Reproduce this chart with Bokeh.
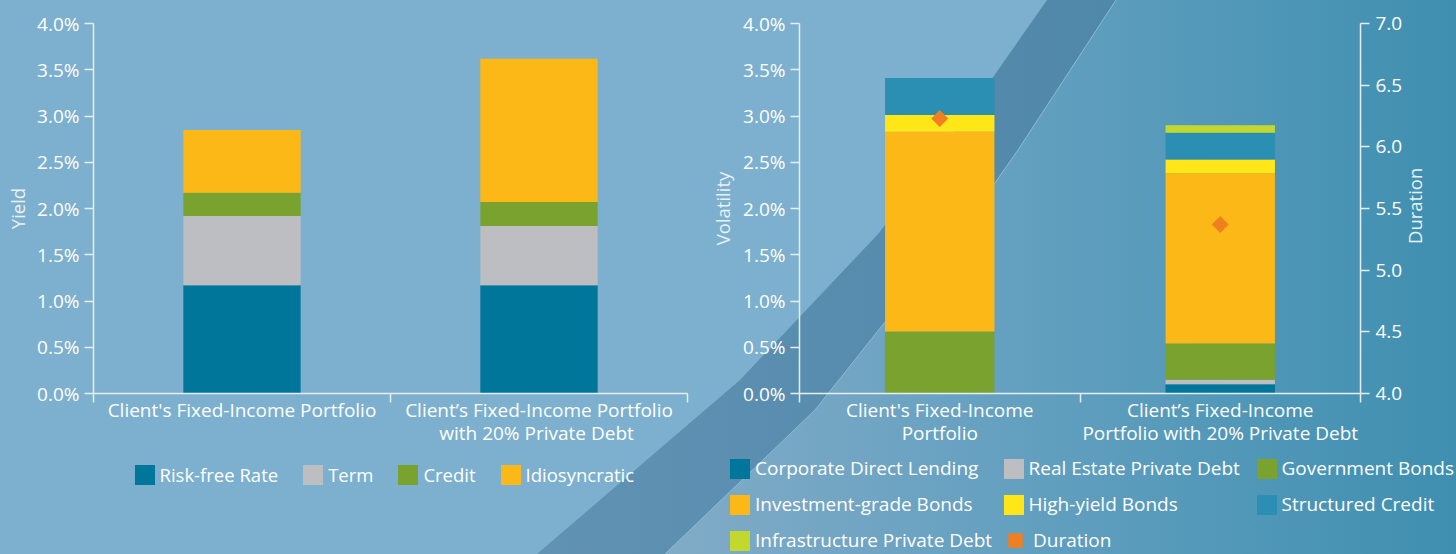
import math
from urllib.parse import quote

from bokeh.plotting import figure
from bokeh.layouts import row
from bokeh.models import (Range1d, LinearAxis, FixedTicker, SingleIntervalTicker,
                          PrintfTickFormatter, Legend, LegendItem, ColumnDataSource,
                          GlobalInlineStyleSheet)
from bokeh.embed import file_html
from bokeh.resources import INLINE

# ---------------- data (percent) ----------------
left_categories = ["Client's Fixed-Income Portfolio",
                   "Client\u2019s Fixed-Income Portfolio\nwith  20% Private Debt"]
left_series = ["Risk-free Rate", "Term", "Credit", "Idiosyncratic"]
risk_free_rate = [1.17, 1.17]
term = [0.75, 0.64]
credit = [0.25, 0.26]
idiosyncratic = [0.68, 1.55]

right_categories = ["Client's Fixed-Income\nPortfolio",
                    "Client\u2019s Fixed-Income\nPortfolio with 20% Private Debt"]
right_series = ["Corporate Direct Lending", "Real Estate Private Debt", "Government Bonds",
                "Investment-grade Bonds", "High-yield Bonds", "Structured Credit",
                "Infrastructure Private Debt"]
corporate_direct_lending = [0.00, 0.10]
real_estate_private_debt = [0.00, 0.05]
government_bonds = [0.67, 0.39]
investment_grade_bonds = [2.16, 1.84]
high_yield_bonds = [0.18, 0.15]
structured_credit = [0.40, 0.29]
infrastructure_private_debt = [0.00, 0.08]
duration = [6.23, 5.37]

y_min, y_max = 0.0, 4.0          # yield / volatility axes (percent)
dur_min, dur_max = 4.0, 7.0      # duration axis
tick_interval = 0.5

# ---------------- styles ----------------
FONT = "Open Sans"
FS = "19px"
TXT = "#ffffff"
LBL = "#e9f1f6"
AXIS = "#e6eef4"
C_DARK = "#00769a"
C_GREY = "#bdbec2"
C_GREEN = "#7aa22f"
C_ORANGE = "#fbb817"
C_YELLOW = "#ffe616"
C_TEAL = "#2a8fb3"
C_LIME = "#c2d82e"
C_DIAMOND = "#f07f22"

left_colors = [C_DARK, C_GREY, C_GREEN, C_ORANGE]
right_colors = [C_DARK, C_GREY, C_GREEN, C_ORANGE, C_YELLOW, C_TEAL, C_LIME]

# geometry (pixels): frames cover the whole figures; axes are pinned inside them
H = 554
MAX_PX = 23                        # screen row of the axis maximum
ZERO_PX = 393                      # screen row of value 0
PLOT_H = ZERO_PX - MAX_PX
BELOW = H - ZERO_PX

# background decoration (page)
svg = (
    "<svg xmlns='http://www.w3.org/2000/svg' width='1456' height='554'>"
    "<defs>"
    "<linearGradient id='g1' gradientUnits='userSpaceOnUse' x1='650' y1='0' x2='1456' y2='0'>"
    "<stop offset='0' stop-color='#82acc7'/><stop offset='0.45' stop-color='#64a0c0'/>"
    "<stop offset='1' stop-color='#3f8fb0'/></linearGradient>"
    "<linearGradient id='g2' gradientUnits='userSpaceOnUse' x1='540' y1='0' x2='1110' y2='0'>"
    "<stop offset='0' stop-color='#6192b3'/><stop offset='1' stop-color='#5088aa'/></linearGradient>"
    "</defs>"
    "<rect width='1456' height='554' fill='#7cb0ce'/>"
    "<polygon points='537,554 740,380 879,233 989,83 1047,0 1456,0 1456,554' fill='url(#g2)'/>"
    "<polygon points='665,554 815,410 990,190 1018,150 1116,0 1456,0 1456,554' fill='url(#g1)'/>"
    "<polyline points='665,554 815,410 990,190 1018,150 1116,0' fill='none' stroke='#8dbad3' stroke-width='1'/>"
    "</svg>"
)
page_css = GlobalInlineStyleSheet(css=(
    "html, body { margin: 0; padding: 0; overflow: hidden; background-color: #7cb0ce; "
    "background-image: url(\"data:image/svg+xml," + quote(svg) + "\"); "
    "background-repeat: no-repeat; background-size: 1456px 554px; }"
))


def style_axis_label(ax, label, standoff):
    ax.axis_label = label
    ax.axis_label_text_font = FONT
    ax.axis_label_text_font_size = "18.5px"
    ax.axis_label_text_font_style = "normal"
    ax.axis_label_text_color = LBL
    ax.axis_label_standoff = standoff


def style_yaxis(ax, bounds):
    ax.bounds = bounds
    ax.axis_line_color = AXIS
    ax.axis_line_width = 1.5
    ax.major_tick_line_color = AXIS
    ax.major_tick_line_width = 1.5
    ax.major_tick_out = 9
    ax.major_tick_in = 0
    ax.minor_tick_line_color = None
    ax.major_label_standoff = 5
    ax.major_label_text_font = FONT
    ax.major_label_text_font_size = FS
    ax.major_label_text_color = TXT


def style_xaxis(ax, positions, labels, n):
    ax.fixed_location = y_min
    ax.bounds = (0, n)
    ax.ticker = FixedTicker(ticks=positions, minor_ticks=list(range(n + 1)))
    ax.major_label_overrides = {pos: lab for pos, lab in zip(positions, labels)}
    ax.axis_line_color = AXIS
    ax.axis_line_width = 1.5
    ax.major_tick_line_color = None
    ax.major_tick_out = 0
    ax.major_tick_in = 0
    ax.minor_tick_line_color = AXIS
    ax.minor_tick_line_width = 1.5
    ax.minor_tick_out = 9
    ax.minor_tick_in = 0
    ax.major_label_standoff = -6
    ax.major_label_text_font = FONT
    ax.major_label_text_font_size = FS
    ax.major_label_text_color = TXT
    ax.major_label_text_line_height = 0.89


def make_legend(items, location, orientation, font_size, spacing, standoff, glyph=25):
    leg = Legend(items=items, location=location, orientation=orientation,
                 glyph_width=glyph, glyph_height=glyph, label_standoff=standoff, spacing=spacing)
    leg.label_text_font = FONT
    leg.label_text_font_size = font_size
    leg.label_text_color = TXT
    leg.background_fill_alpha = 0
    leg.border_line_alpha = 0
    leg.padding = 0
    leg.margin = 0
    return leg


def make_figure(width, left_px, right_px, n):
    px_x = (width - left_px - right_px) / n
    px_y = PLOT_H / (y_max - y_min)
    p = figure(width=width, height=H,
               x_range=Range1d(-left_px / px_x, n + right_px / px_x),
               y_range=Range1d(y_min - BELOW / px_y, y_max + MAX_PX / px_y),
               output_backend="svg", toolbar_location=None,
               min_border_left=0, min_border_right=0, min_border_top=0, min_border_bottom=0,
               background_fill_alpha=0, border_fill_alpha=0, outline_line_color=None)
    p.xgrid.visible = False
    p.ygrid.visible = False
    p.yaxis[0].fixed_location = 0
    p.yaxis[0].ticker = SingleIntervalTicker(interval=tick_interval, num_minor_ticks=0)
    p.yaxis[0].formatter = PrintfTickFormatter(format="%.1f%%")
    return p


# ---------------- left chart (axis at x=93, category span 93..687) ----------------
xl = [i + 0.5 for i in range(len(left_categories))]
src_l = ColumnDataSource(dict(x=xl, rf=risk_free_rate, term=term, credit=credit, idio=idiosyncratic))
p1 = make_figure(700, 93, 13, len(left_categories))
rl = p1.vbar_stack(["rf", "term", "credit", "idio"], x="x", width=0.395, color=left_colors,
                   line_color=None, source=src_l)
style_yaxis(p1.yaxis[0], (y_min, y_max))
style_axis_label(p1.yaxis[0], "Yield", 4)
style_xaxis(p1.xaxis[0], xl, left_categories, len(left_categories))

leg1 = make_legend([LegendItem(label=s, renderers=[r]) for s, r in zip(left_series, rl)],
                   (131.5, 67), "horizontal", "18.5px", 22, 3)
p1.add_layout(leg1, "center")

# ---------------- right chart (axis at x=799, category span 799..1360) ----------------
xr = [i + 0.5 for i in range(len(right_categories))]
src_r = ColumnDataSource(dict(x=xr, cdl=corporate_direct_lending, re=real_estate_private_debt,
                              gov=government_bonds, ig=investment_grade_bonds, hy=high_yield_bonds,
                              sc=structured_credit, infra=infrastructure_private_debt, dur=duration))
p2 = make_figure(756, 99, 96, len(right_categories))
px_d = PLOT_H / (dur_max - dur_min)
p2.extra_y_ranges = {"dur": Range1d(dur_min - BELOW / px_d, dur_max + MAX_PX / px_d)}
rr = p2.vbar_stack(["cdl", "re", "gov", "ig", "hy", "sc", "infra"], x="x", width=0.39,
                   color=right_colors, line_color=None, source=src_r)
rd = p2.scatter(x="x", y="dur", source=src_r, y_range_name="dur", marker="square", size=12,
                angle=math.pi / 4, fill_color=C_DIAMOND, line_color=None)
style_yaxis(p2.yaxis[0], (y_min, y_max))
style_axis_label(p2.yaxis[0], "Volatility", 5)
style_xaxis(p2.xaxis[0], xr, right_categories, len(right_categories))

# duration axis (ticks and tick labels)
ax_dur = LinearAxis(y_range_name="dur", fixed_location=len(right_categories),
                    ticker=SingleIntervalTicker(interval=tick_interval, num_minor_ticks=0),
                    formatter=PrintfTickFormatter(format="%.1f"))
style_yaxis(ax_dur, (dur_min, dur_max))
ax_dur.major_label_standoff = 6
p2.add_layout(ax_dur, "right")

# duration axis title, read bottom-to-top like the reference; its text starts at the
# middle of the axis bounds, so the bounds are chosen to centre it near 5.5
label_bottom_px = 243.5
label_mid = dur_max - (label_bottom_px - MAX_PX) / px_d
ax_dur_title = LinearAxis(y_range_name="dur", fixed_location=len(right_categories),
                          ticker=FixedTicker(ticks=[]),
                          bounds=(dur_min, 2 * label_mid - dur_min))
ax_dur_title.axis_line_color = None
ax_dur_title.major_tick_line_color = None
ax_dur_title.minor_tick_line_color = None
ax_dur_title.major_tick_out = 0
ax_dur_title.major_tick_in = 0
ax_dur_title.major_label_standoff = 0
style_axis_label(ax_dur_title, "Duration", 54)
ax_dur_title.axis_label_orientation = math.pi / 2
p2.add_layout(ax_dur_title, "right")

# legend: three columns of swatches plus the duration marker
items_r = [LegendItem(label=s, renderers=[r]) for s, r in zip(right_series, rr)]
columns = [[0, 3, 6], [1, 4], [2, 5]]
col_x = [27, 300.5, 553.5]
col_vy = [1, 37, 37]
for idx, cx, vy in zip(columns, col_x, col_vy):
    leg = make_legend([items_r[i] for i in idx], (cx, vy), "vertical", FS, 10, 3)
    p2.add_layout(leg, "center")
leg_dur = make_legend([LegendItem(label="Duration", renderers=[rd])], (297, -4), "vertical",
                      FS, 10, -4, glyph=36)
p2.add_layout(leg_dur, "center")

layout = row(p1, p2, spacing=0)
layout.stylesheets = [page_css]

open("out.html", "w").write(file_html(layout, INLINE))
